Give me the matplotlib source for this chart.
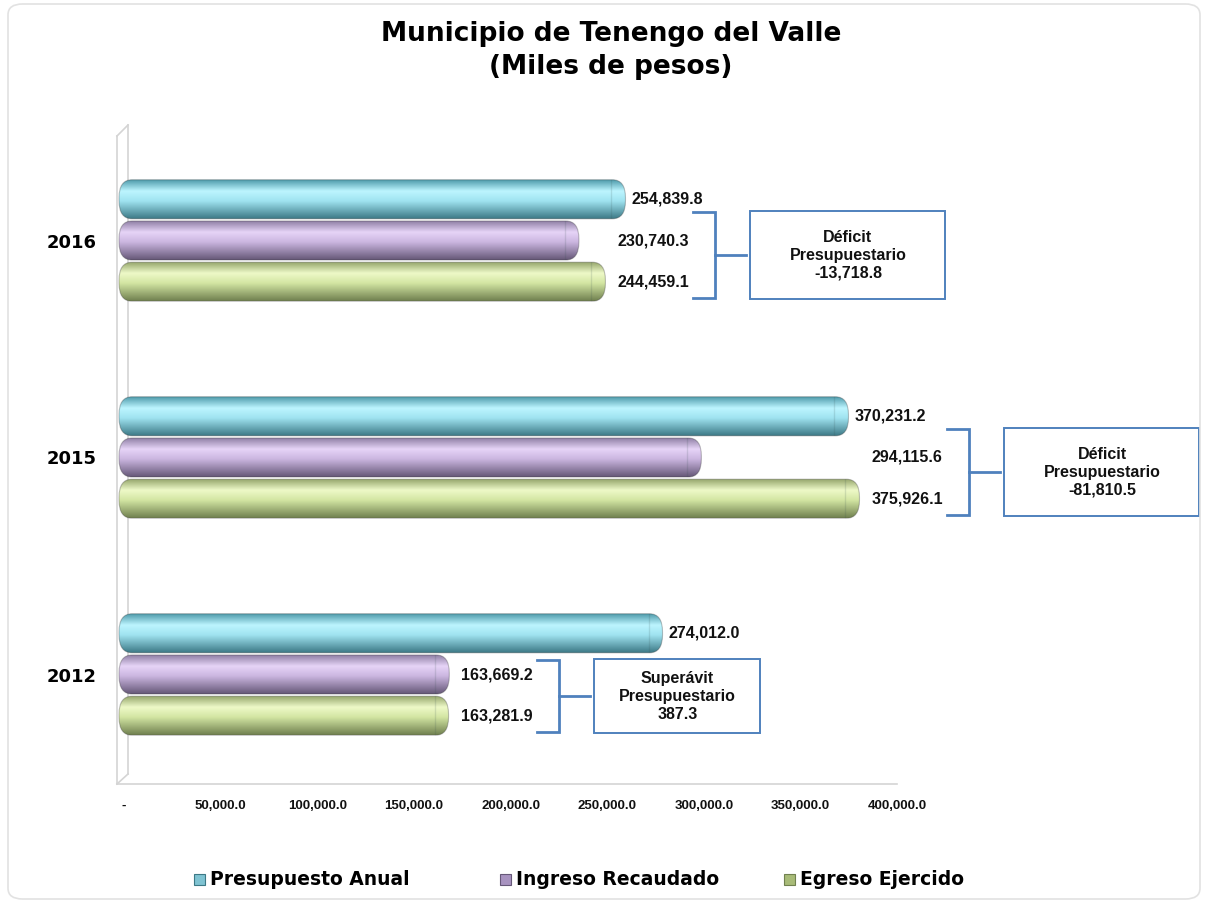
import numpy as np
import matplotlib
matplotlib.use("Agg")
import matplotlib.pyplot as plt
from matplotlib.patches import FancyBboxPatch, Rectangle
from matplotlib.colors import LinearSegmentedColormap

# -------------------------------------
#  Data
# -------------------------------------

years = ["2012", "2015", "2016"]
presupuesto = [274012.0, 370231.2, 254839.8]
ingreso = [163669.2, 294115.6, 230740.3]
egreso = [163281.9, 375926.1, 244459.1]

series_names = ["Presupuesto Anual", "Ingreso Recaudado", "Egreso Ejercido"]
xticks = [0, 50000, 100000, 150000, 200000, 250000, 300000, 350000, 400000]

# gradient stops (top edge, highlight, lower body, bottom edge) per series
shades = [
    ["#4a97a8", "#bdf5ff", "#9fe3f0", "#3c7986"],
    ["#8a7aa0", "#e6d4f7", "#cbb6e0", "#665878"],
    ["#8fa065", "#eef9c8", "#d3e6a3", "#718150"],
]
mid_colors = ["#7fc3d2", "#a893c0", "#a8bb78"]

plt.rcParams["font.family"] = ["Liberation Sans", "DejaVu Sans"]
WIDE = ["DejaVu Sans"]

W, H = 1206, 905
fig = plt.figure(figsize=(W / 100, H / 100), dpi=100)

# axes box in pixels; x=0 sits at pixel 124
zero_px, full_px = 124, 897
ax_l, ax_r, ax_b, ax_t = 117, 897, 783, 132
ax = fig.add_axes([ax_l / W, 1 - ax_b / H, (ax_r - ax_l) / W, (ax_b - ax_t) / H])

xmax = 400000
xpp = xmax / (full_px - zero_px)     # data units per pixel, x
xmin = -(zero_px - ax_l) * xpp
ymin, ymax = -0.5, 2.5
ypp = (ymax - ymin) / (ax_b - ax_t)  # data units per pixel, y

# -------------------------------------
#  Bars (rounded, shaded cylinders)
# -------------------------------------

bar_h = 0.18
offsets = [0.19, 0.0, -0.19]
rx = 13 * xpp
ry = 18 * ypp


def draw_bar(y, value, k):
    x0 = -5 * xpp
    x1 = value + 9 * xpp
    y0 = y - bar_h / 2
    patch = FancyBboxPatch((x0, y0), x1 - x0, bar_h,
                           boxstyle=f"round,pad=0,rounding_size={rx}",
                           mutation_aspect=ry / rx,
                           facecolor="none", edgecolor=(0.2, 0.2, 0.2, 0.3),
                           linewidth=0.8, zorder=3)
    ax.add_patch(patch)
    cmap = LinearSegmentedColormap.from_list(
        f"s{k}", list(zip([0.0, 0.3, 0.55, 1.0], shades[k])))
    grad = np.linspace(0, 1, 80).reshape(-1, 1)
    im = ax.imshow(grad, cmap=cmap, aspect="auto", extent=(x0, x1, y0, y0 + bar_h),
                   origin="upper", zorder=2, interpolation="bilinear")
    im.set_clip_path(patch)
    # faint seam where the rounded end cap begins
    seam, = ax.plot([x1 - 14 * xpp] * 2, [y0, y0 + bar_h], color=(0.2, 0.3, 0.3, 0.15),
                    lw=1.0, zorder=2.5)
    seam.set_clip_path(patch)


series = [presupuesto, ingreso, egreso]
for i, yr in enumerate(years):
    for k, vals in enumerate(series):
        draw_bar(i + offsets[k], vals[i], k)

# value labels, brackets and balance boxes
blue = "#4f81bd"
lab_font = dict(fontsize=11.5, fontweight="bold", color="#111111", va="center", ha="left")
for i in range(len(years)):
    ax.text(presupuesto[i] + 15 * xpp, i + offsets[0], f"{presupuesto[i]:,.1f}", **lab_font)
    m = max(ingreso[i], egreso[i])
    ax.text(m + 21 * xpp, i + offsets[1], f"{ingreso[i]:,.1f}", **lab_font)
    ax.text(m + 21 * xpp, i + offsets[2], f"{egreso[i]:,.1f}", **lab_font)

    bal = ingreso[i] - egreso[i]
    surplus = bal >= 0
    word = "Superávit" if surplus else "Déficit"
    y_hi = i + (0.065 if surplus else 0.13)
    y_lo = i - 0.265
    bx = m + 119 * xpp
    ax.plot([m + 97 * xpp, bx, bx, m + 97 * xpp], [y_hi, y_hi, y_lo, y_lo],
            color=blue, lw=2, clip_on=False, zorder=4, solid_joinstyle="miter")
    ym = (y_hi + y_lo) / 2
    ax.plot([bx, m + 150 * xpp], [ym, ym], color=blue, lw=2, clip_on=False, zorder=4)
    bw = (166 if surplus else 195) * xpp
    b0 = m + 154 * xpp
    ax.add_patch(Rectangle((b0, y_lo - 0.005), bw, y_hi - y_lo + 0.01, facecolor="white",
                           edgecolor=blue, lw=1.4, clip_on=False, zorder=4))
    ax.text(b0 + bw / 2, ym, f"{word}\nPresupuestario\n{bal:,.1f}", ha="center", va="center",
            fontsize=11.5, fontweight="bold", linespacing=1.25, color="#111111", zorder=5)

# -------------------------------------
#  Axes styling
# -------------------------------------

ax.set_xlim(xmin, xmax)
ax.set_ylim(ymin, ymax)
ax.set_facecolor("none")
for s in ax.spines.values():
    s.set_visible(False)

ax.set_yticks(range(len(years)))
ax.set_yticklabels(years, fontsize=13, fontweight="bold", family=WIDE)
ax.tick_params(axis="y", length=0, pad=15)

ax.set_xticks(xticks)
ax.set_xticklabels(["-" if t == 0 else f"{t:,.1f}" for t in xticks], fontsize=9.5,
                   fontweight="bold")
ax.tick_params(axis="x", length=0, pad=12, colors="#111111")

# floor line and the thin 3D wall at the left
g = "#d4d4d4"
wall = [([117, full_px], [784, 784]), ([117, 117], [784, 136]), ([128, 128], [774, 125]),
        ([117, 128], [136, 125]), ([117, 128], [784, 774])]
for xs, ys in wall:
    fig.add_artist(plt.Line2D([x / W for x in xs], [1 - y / H for y in ys], color=g, lw=1.2,
                              zorder=0))

# outer rounded frame
fig.add_artist(FancyBboxPatch((8 / W, 6 / H), 1 - 14 / W, 1 - 10 / H,
                              boxstyle="round,pad=0,rounding_size=0.012",
                              transform=fig.transFigure, facecolor="none",
                              edgecolor="#e2e2e2", lw=1.2))

# -------------------------------------
#  Title and legend
# -------------------------------------

fig.text(611 / W, 1 - 41 / H, "Municipio de Tenengo del Valle", ha="center",
         va="baseline", fontsize=19, fontweight="bold", family=WIDE)
fig.text(611 / W, 1 - 74 / H, "(Miles de pesos)", ha="center", va="baseline",
         fontsize=19, fontweight="bold", family=WIDE)

leg_x = [194, 500, 784]
for k, name in enumerate(series_names):
    x = leg_x[k]
    fig.add_artist(Rectangle((x / W, 1 - 885 / H), 11 / W, 11 / H, transform=fig.transFigure,
                             facecolor=mid_colors[k], edgecolor=shades[k][3], lw=0.8))
    fig.text((x + 16) / W, 1 - 879 / H, name, ha="left", va="center",
             fontsize=13.5, fontweight="bold", family=WIDE)

fig.savefig("out.png", dpi=100)
